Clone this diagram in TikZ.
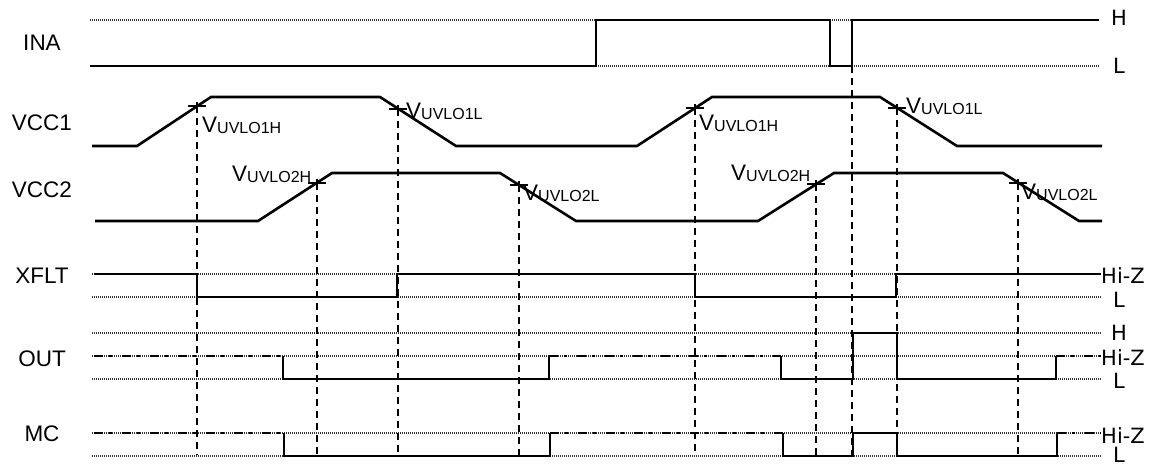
\documentclass[tikz,border=0pt]{standalone}
\usepackage{fontspec}
\setmainfont{Liberation Sans}
\newfontfamily\rfont{DejaVu Sans}
\newcommand\uvlo[1]{\fontsize{22.5}{26}\selectfont V\fontsize{16}{18}\selectfont\raisebox{-1.5pt}{UVLO#1}}
\begin{document}
\begin{tikzpicture}[x=1pt,y=-1pt,
  sig/.style={line width=2.6pt,line join=miter},
  refl/.style={line width=1.2pt,dash pattern=on 1pt off 1pt,black!80},
  hiz/.style={line width=2.6pt,dash pattern=on 9pt off 6pt on 2.5pt off 10.5pt},
  vline/.style={line width=1.6pt,dash pattern=on 7pt off 5pt},
  tickm/.style={line width=1.6pt},
  lbl/.style={inner sep=0pt,font=\fontsize{22.5}{26}\selectfont},
  rlbl/.style={inner sep=0pt,anchor=west,font=\rfont\fontsize{21}{25}\selectfont},
  vlbl/.style={inner sep=0pt,anchor=base west}]
\useasboundingbox (0,0) rectangle (1157,466);

% left labels
\node[lbl] (lINA) at (42,43) {INA};
\node[lbl] (lVCC1) at (42,123) {VCC1};
\node[lbl] (lVCC2) at (42,190) {VCC2};
\node[lbl] (lXFLT) at (42,276) {XFLT};
\node[lbl] (lOUT) at (42,359) {OUT};
\node[lbl] (lMC) at (42,434) {MC};

% right labels
\node[rlbl] (rINAH) at (1111,18) {H};
\node[rlbl] (rINAL) at (1113,66) {L};
\node[rlbl] (rXH) at (1101,276) {Hi-Z};
\node[rlbl] (rXL) at (1113,300) {L};
\node[rlbl] (rOH) at (1111,333) {H};
\node[rlbl] (rOZ) at (1101,358) {Hi-Z};
\node[rlbl] (rOL) at (1113,381) {L};
\node[rlbl] (rMZ) at (1101,436) {Hi-Z};
\node[rlbl] (rML) at (1113,455) {L};

% reference dotted lines
\foreach \y in {20,66} \draw[refl] (90,\y) -- (1099,\y);
\foreach \y in {274,297,333,356,379,433,456} \draw[refl] (92,\y) -- (1101,\y);

% dashed verticals
\foreach \x/\y in {197/106,317/183,398/109,519/185,695/108,816/184,852/66,897/108,1018/183}
  \draw[vline] (\x,\y) -- (\x,455);

% threshold ticks
\foreach \x/\y in {197/106,317/183,398/109,519/185,695/108,816/184,897/108,1018/183}{
  \draw[tickm] (\x-9,\y) -- (\x+9,\y);
  \draw[tickm] (\x,\y-4) -- (\x,\y+4);
}

% INA
\draw[sig] (90,66) -- (596,66) -- (596,20) -- (830,20) -- (830,66) -- (852,66) -- (852,20) -- (1099,20);

% VCC1
\draw[sig] (92,146) -- (137,146) -- (211,97) -- (380,97) -- (456,146) -- (637,146) -- (712,97) -- (880,97) -- (957,146) -- (1102,146);

% VCC2
\draw[sig] (95,221) -- (258,221) -- (332,173) -- (500,173) -- (576,221) -- (758,221) -- (834,173) -- (1003,173) -- (1079,221) -- (1102,221);

% threshold labels
\node[vlbl] (v1h) at (202,132) {\uvlo{1H}};
\node[vlbl] (v1l) at (406,118) {\uvlo{1L}};
\node[vlbl] (v2h) at (232,181) {\uvlo{2H}};
\node[vlbl] (v2l) at (523,200) {\uvlo{2L}};
\node[vlbl] (v1hb) at (699,130) {\uvlo{1H}};
\node[vlbl] (v1lb) at (906,113) {\uvlo{1L}};
\node[vlbl] (v2hb) at (731,180) {\uvlo{2H}};
\node[vlbl] (v2lb) at (1021,199) {\uvlo{2L}};

% XFLT
\draw[sig] (94,274) -- (197,274) -- (197,297) -- (397,297) -- (397,274) -- (695,274) -- (695,297) -- (896,297) -- (896,274) -- (1101,274);

% OUT
\draw[hiz] (94,356) -- (283,356);
\draw[sig] (283,356) -- (283,379) -- (549,379) -- (549,356);
\draw[hiz] (549,356) -- (781,356);
\draw[sig] (781,356) -- (781,379) -- (853,379) -- (853,333) -- (897,333) -- (897,379) -- (1056,379) -- (1056,356);
\draw[hiz] (1056,356) -- (1101,356);

% MC
\draw[hiz] (94,433) -- (284,433);
\draw[sig] (284,433) -- (284,456) -- (550,456) -- (550,433);
\draw[hiz] (550,433) -- (783,433);
\draw[sig] (783,433) -- (783,456) -- (853,456) -- (853,433) -- (897,433) -- (897,456) -- (1057,456) -- (1057,433);
\draw[hiz] (1057,433) -- (1101,433);
\end{tikzpicture}
\end{document}
